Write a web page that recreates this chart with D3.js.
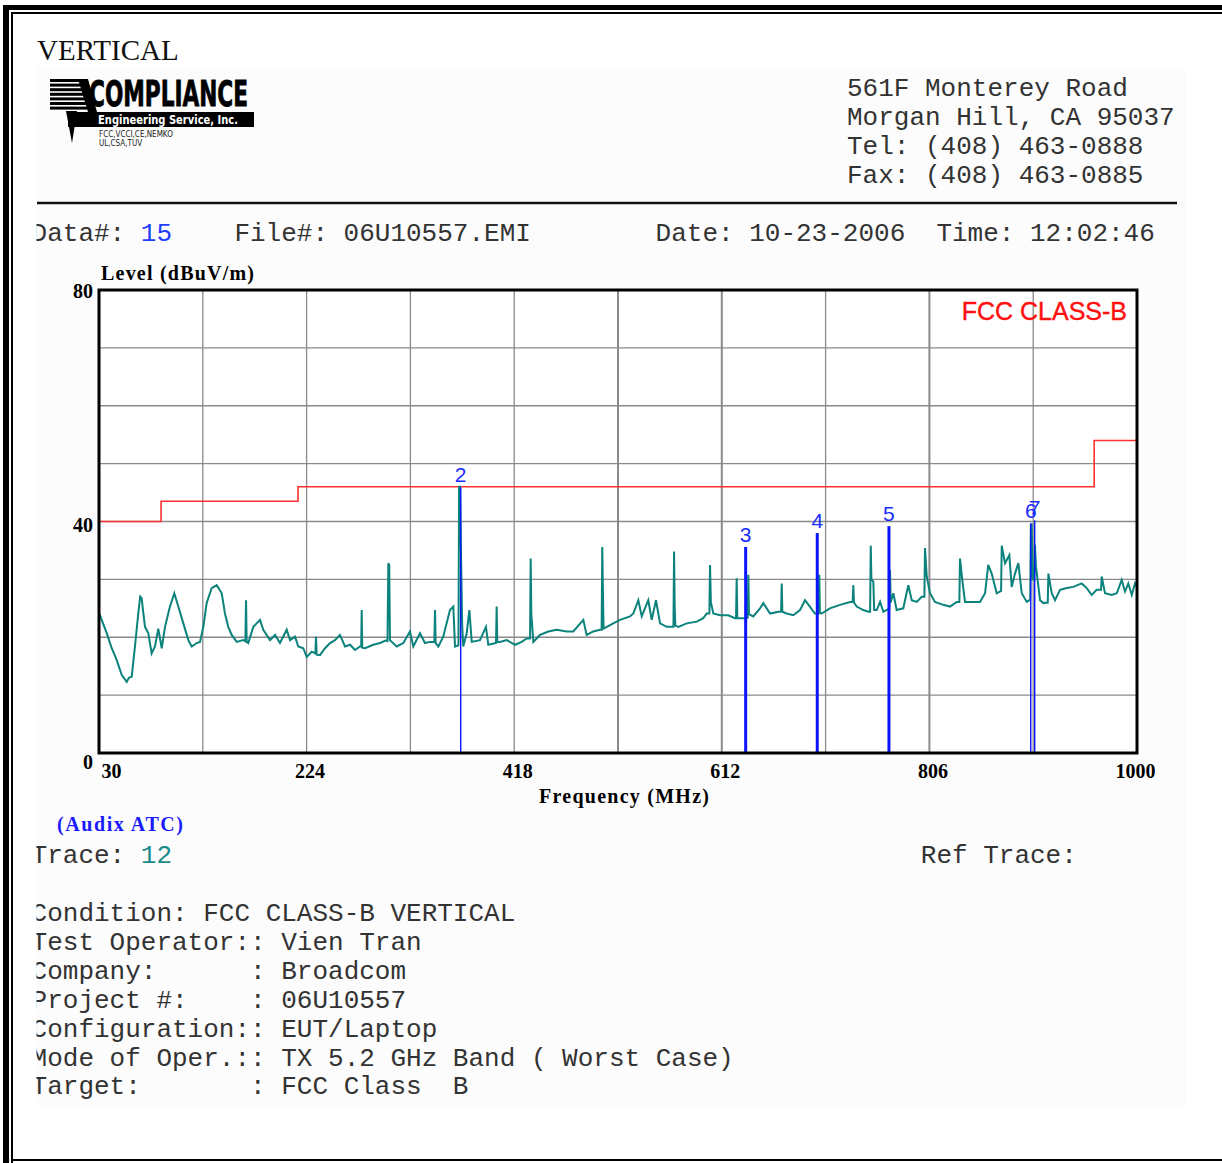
<!DOCTYPE html>
<html>
<head>
<meta charset="utf-8">
<script src="https://cdn.jsdelivr.net/npm/d3@7"></script>
<style>
  html, body { margin: 0; padding: 0; background: #fff; }
  svg { display: block; }
  .mono { font-family: "Liberation Mono", "DejaVu Sans Mono", monospace; font-size: 26px; fill: #333; white-space: pre; }
  .serif { font-family: "Liberation Serif", "Times New Roman", serif; }
</style>
</head>
<body>
<div id="page"></div>
<script>
// ---- chart values ----
const freqTicks = [30, 224, 418, 612, 806, 1000]
const levelTicks = [0, 40, 80]

// FCC class B limit (step line)
const limitMHz = [30, 88, 216, 960, 1000]
const limitDb = [40, 43.5, 46, 54, 54]

// marker lines
const markerNo = ["2", "3", "4", "5", "6", "7"]
const markerMHz = [368.0, 634.3, 701.2, 768.2, 900.7, 904.4]
const markerDb = [45.9, 35.6, 38.0, 39.2, 39.7, 40.2]

// measured trace 12 (MHz, dBuV/m)
const traceData = [
  [30.5, 24.0], [31.9, 23.3], [37.2, 20.7], [41.9, 18.1], [46.5, 16.1], [51.2, 13.5], [55.9, 12.3], [58, 13.0],
  [60.6, 13.2], [63.6, 18.4], [66.7, 24.1], [68.5, 27.0], [69.9, 26.7], [71.2, 24.5], [73.0, 21.8], [76.1, 20.7],
  [79.2, 17.2], [82.3, 18.4], [85.4, 21.5], [88.6, 18.1], [91.7, 21.8], [96.3, 25.3], [100.4, 27.6], [104.1, 25.3],
  [108.8, 22.4], [113.5, 19.5], [116.6, 18.4], [121.3, 19.0], [124.4, 19.2], [127.5, 21.8], [130.6, 25.9],
  [135.3, 28.5], [140.0, 29.0], [144.7, 27.6], [147.7, 24.1], [150.8, 21.8], [154.0, 20.4], [158.7, 19.2],
  [164.8, 19.5], [166.8, 19.3], [167.4, 26.4], [168.0, 19.2], [169.5, 19.0], [174.2, 21.8], [180.5, 23.0],
  [183.5, 21.3], [189.8, 19.5], [194.5, 20.4], [199.1, 19.0], [205.4, 21.3], [208.5, 19.5], [213.2, 20.1],
  [216.2, 18.4], [220.9, 18.1], [224.1, 16.6], [228.8, 17.5], [232.2, 17.2], [232.8, 20.1], [233.4, 17.0],
  [236.5, 16.9], [241.2, 18.1], [245.9, 19.0], [250.5, 19.5], [255.2, 20.4], [259.9, 18.4], [264.6, 18.7],
  [269.2, 17.8], [273.9, 18.4], [275.0, 18.4], [275.5, 24.7], [276.0, 18.2], [278.6, 18.1], [286.3, 18.7],
  [292.6, 19.0], [298.9, 19.5], [299.6, 19.4], [300.4, 32.8], [301.2, 32.5], [301.9, 19.5], [308.2, 18.4],
  [314.4, 19.0], [320.6, 21.0], [323.7, 18.4], [330.0, 20.7], [334.6, 19.0], [339.3, 19.2], [343.4, 19.2],
  [344.0, 24.7], [344.6, 19.0], [347.1, 18.4], [351.7, 20.1], [358.0, 24.7], [361.1, 25.3], [362.7, 18.4],
  [365.9, 18.6], [366.5, 46.0], [367.4, 46.0], [368.4, 33.1], [369.4, 22.0], [370.4, 18.4], [373.6, 20.7],
  [376.1, 24.7], [378.3, 19.2], [386.0, 19.5], [391.6, 21.8], [393.8, 18.7], [401.0, 19.0], [401.6, 25.3],
  [402.2, 19.2], [404.7, 19.2], [411.0, 19.5], [418.8, 18.7], [425.0, 19.2], [429.7, 19.8], [432.8, 19.8],
  [433.4, 33.6], [434.0, 24.0], [435.9, 19.2], [442.1, 20.4], [449.9, 21.0], [457.7, 21.3], [467.1, 21.0],
  [473.2, 21.0], [482.6, 23.0], [485.7, 20.4], [491.9, 21.0], [498.2, 21.3], [499.7, 21.3], [500.3, 35.6],
  [500.9, 28.0], [501.5, 21.5], [504.5, 21.8], [510.6, 22.4], [516.9, 23.0], [526.2, 23.6], [529.3, 24.1],
  [534.0, 26.4], [537.2, 23.6], [543.3, 26.4], [546.5, 23.0], [550.5, 26.4], [554.3, 22.4], [560.5, 21.8],
  [566.8, 21.8], [567.4, 34.8], [568.0, 25.0], [568.6, 22.0], [571.4, 21.8], [579.2, 22.4], [588.6, 22.7],
  [594.7, 23.3], [597.9, 24.1], [600.4, 24.1], [601.0, 32.5], [601.8, 26.0], [604.1, 24.1], [610.3, 23.8],
  [618.1, 23.8], [624.3, 23.3], [625.3, 23.3], [625.9, 30.2], [626.5, 23.3], [629.0, 23.3], [635.3, 23.3],
  [636.2, 23.4], [636.8, 30.8], [637.4, 24.0], [641.4, 23.6], [647.7, 25.0], [650.8, 25.9], [657.1, 24.1],
  [664.8, 24.4], [667.4, 24.4], [668.0, 29.3], [668.6, 24.4], [672.6, 24.1], [678.8, 23.8], [685.1, 24.7],
  [689.8, 26.4], [694.3, 25.3], [699.0, 24.1], [702.5, 24.1], [703.1, 30.8], [703.7, 24.2], [705.3, 24.1],
  [713.0, 25.0], [722.5, 25.6], [731.8, 26.1], [734.3, 26.1], [734.9, 29.0], [735.5, 26.0], [738.1, 25.3],
  [744.2, 24.7], [748.9, 24.4], [750.6, 24.4], [751.2, 35.8], [751.8, 30.0], [753.6, 29.6], [754.4, 24.7],
  [756.8, 24.7], [759.9, 26.1], [763.0, 24.4], [768.6, 25.0], [769.2, 31.6], [769.8, 26.0], [772.3, 27.6],
  [775.4, 24.7], [781.6, 25.0], [786.3, 29.0], [789.5, 26.4], [794.2, 26.1], [798.8, 27.0], [801.3, 27.0],
  [801.9, 35.4], [803.5, 30.5], [806.6, 27.6], [811.2, 26.1], [819.0, 25.6], [825.3, 25.3], [831.5, 26.1],
  [834.0, 26.1], [834.6, 33.6], [837.1, 29.3], [839.3, 26.1], [845.5, 26.1], [853.3, 26.1], [858.0, 27.6],
  [861.0, 32.5], [864.2, 31.0], [868.9, 27.6], [873.0, 28.0], [873.6, 35.8], [876.7, 32.8], [880.7, 34.2],
  [882.9, 28.7], [886.0, 31.0], [889.1, 32.8], [892.3, 27.6], [897.0, 26.1], [900.2, 26.5], [900.8, 39.5],
  [901.6, 39.5], [902.4, 30.0], [904.0, 30.0], [904.6, 36.0], [905.6, 32.2], [909.4, 26.4], [912.5, 25.9],
  [916.6, 26.0], [917.2, 31.0], [920.3, 27.6], [923.4, 26.4], [928.1, 28.2], [934.3, 28.5], [940.5, 28.7],
  [948.3, 29.3], [953.0, 28.5], [957.7, 27.3], [962.3, 28.2], [966.4, 28.2], [967.0, 30.5], [970.1, 27.6],
  [976.4, 27.3], [981.1, 27.6], [985.7, 29.9], [988.8, 27.9], [991.9, 29.3], [995.1, 27.3], [998.2, 29.3],
  [1000, 28.7]
]

// report texts
const addressLines = ["561F Monterey Road", "Morgan Hill, CA 95037", "Tel: (408) 463-0888", "Fax: (408) 463-0885"]
const infoLines = [
  "Condition: FCC CLASS-B VERTICAL",
  "Test Operator:: Vien Tran",
  "Company:      : Broadcom",
  "Project #:    : 06U10557",
  "Configuration:: EUT/Laptop",
  "Mode of Oper.:: TX 5.2 GHz Band ( Worst Case)",
  "Target:       : FCC Class  B"
]

// ---- layout ----
const W = 1222, H = 1163
const plot = { left: 99, right: 1137, top: 290, bottom: 753 }
const charW = 15.6
const textX = 31.6

const svg = d3.select("#page").append("svg")
  .attr("width", W).attr("height", H)
  .attr("viewBox", [0, 0, W, H])

// page frame
svg.append("rect").attr("width", W).attr("height", H).attr("fill", "#fff")
svg.append("rect").attr("x", 36).attr("y", 68).attr("width", 1150).attr("height", 1038).attr("fill", "#fcfcfc")
svg.append("rect").attr("x", 3).attr("y", 5).attr("width", 6).attr("height", H - 5).attr("fill", "#000")
svg.append("rect").attr("x", 3).attr("y", 5).attr("width", W - 3).attr("height", 5).attr("fill", "#000")
svg.append("path")
  .attr("d", `M12,${H} V13 H${W} M12,1160 H${W}`)
  .attr("fill", "none").attr("stroke", "#000").attr("stroke-width", 2)

// clip for the left-cut text
svg.append("clipPath").attr("id", "textClip")
  .append("rect").attr("x", 36.5).attr("y", 0).attr("width", W).attr("height", H)

const textLayer = svg.append("g").attr("clip-path", "url(#textClip)")

svg.append("text").attr("class", "serif")
  .attr("x", 37).attr("y", 59.5)
  .style("font-size", "29px").attr("fill", "#111")
  .text("VERTICAL")

drawLogo(svg.append("g"))

// address block
svg.append("g").selectAll("text")
  .data(addressLines)
  .join("text")
  .attr("class", "mono")
  .attr("x", 847)
  .attr("y", (_d, i) => 96 + i * 29)
  .text(d => d)

svg.append("line")
  .attr("x1", 37).attr("x2", 1177).attr("y1", 203).attr("y2", 203)
  .attr("stroke", "#111").attr("stroke-width", 2.5)

// Data / File / Date / Time row
const headRow = [
  { col: 0, text: "Data#:", color: "#333" },
  { col: 7, text: "15", color: "#1f3dff" },
  { col: 13, text: "File#: 06U10557.EMI", color: "#333" },
  { col: 40, text: "Date: 10-23-2006", color: "#333" },
  { col: 58, text: "Time: 12:02:46", color: "#333" }
]
textLayer.selectAll("text.head")
  .data(headRow)
  .join("text")
  .attr("class", "mono head")
  .attr("x", d => textX + d.col * charW)
  .attr("y", 241)
  .style("fill", d => d.color)
  .text(d => d.text)

// ---- chart ----
const x = d3.scaleLinear().domain([30, 1000]).range([plot.left, plot.right])
const y = d3.scaleLinear().domain([0, 80]).range([plot.bottom, plot.top])

const chart = svg.append("g")

chart.append("rect")
  .attr("x", plot.left).attr("y", plot.top)
  .attr("width", plot.right - plot.left).attr("height", plot.bottom - plot.top)
  .attr("fill", "#fff")

// grid
chart.append("g")
  .selectAll("line")
  .data(d3.range(10, 80, 10))
  .join("line")
  .attr("x1", plot.left).attr("x2", plot.right)
  .attr("y1", d => y(d)).attr("y2", d => y(d))
  .attr("stroke", "#8a8a8a").attr("stroke-width", 1.3)

chart.append("g")
  .selectAll("line")
  .data(d3.range(127, 1000, 97))
  .join("line")
  .attr("x1", d => x(d)).attr("x2", d => x(d))
  .attr("y1", plot.top).attr("y2", plot.bottom)
  .attr("stroke", "#8a8a8a")
  .attr("stroke-width", d => (d === 515 || d === 612 || d === 806) ? 2 : 1.3)

const plotClip = svg.append("clipPath").attr("id", "plotClip")
plotClip.append("rect")
  .attr("x", plot.left).attr("y", plot.top)
  .attr("width", plot.right - plot.left).attr("height", plot.bottom - plot.top)

const inner = chart.append("g").attr("clip-path", "url(#plotClip)")

// limit line
const limitLine = d3.line()
  .x(d => x(d[0]))
  .y(d => y(d[1]))
  .curve(d3.curveStepAfter)

inner.append("path")
  .datum(d3.zip(limitMHz, limitDb))
  .attr("fill", "none")
  .attr("stroke", "#ff3030")
  .attr("stroke-width", 1.6)
  .attr("d", limitLine)

// trace
inner.append("path")
  .datum(traceData)
  .attr("fill", "none")
  .attr("stroke", "#0b827c")
  .attr("stroke-width", 2)
  .attr("stroke-linejoin", "miter")
  .attr("d", d3.line().x(d => x(d[0])).y(d => y(d[1])))

// markers
const thinMarkers = new Set(["2", "6", "7"])
const markers = d3.zip(markerNo, markerMHz, markerDb)

inner.append("g")
  .selectAll("line")
  .data(markers)
  .join("line")
  .attr("x1", d => x(d[1])).attr("x2", d => x(d[1]))
  .attr("y1", y(0)).attr("y2", d => y(d[2]))
  .attr("stroke", "#0a14ff")
  .attr("stroke-width", d => thinMarkers.has(d[0]) ? 1.4 : 3)

chart.append("g")
  .selectAll("text")
  .data(markers)
  .join("text")
  .attr("x", d => x(d[1]))
  .attr("y", d => y(d[2]) - 5)
  .attr("text-anchor", "middle")
  .style("font-family", "Liberation Sans, Arial, sans-serif")
  .style("font-size", "21px")
  .attr("fill", "#1a2cff")
  .text(d => d[0])

inner.append("text")
  .attr("x", 1127).attr("y", 320)
  .attr("text-anchor", "end")
  .style("font-family", "Liberation Sans, Arial, sans-serif")
  .style("font-size", "25px")
  .attr("fill", "#ff1010")
  .attr("stroke", "#ff1010")
  .attr("stroke-width", 0.4)
  .text("FCC CLASS-B")

// frame of the plot
chart.append("rect")
  .attr("x", plot.left).attr("y", plot.top)
  .attr("width", plot.right - plot.left).attr("height", plot.bottom - plot.top)
  .attr("fill", "none").attr("stroke", "#000").attr("stroke-width", 3)

// axes
const xAxis = chart.append("g")
  .attr("transform", `translate(0,${plot.bottom})`)
  .call(d3.axisBottom(x).tickValues(freqTicks).tickFormat(d3.format("d")).tickSize(0).tickPadding(0))
xAxis.select(".domain").remove()
xAxis.selectAll(".tick text")
  .attr("class", "serif")
  .style("font-size", "20px")
  .style("font-weight", "bold")
  .attr("fill", "#000")
  .attr("dy", 0)
  .attr("y", 25)
  .attr("text-anchor", d => d === 30 ? "start" : "middle")
  .attr("dx", d => d === 30 ? 2 : (d === 1000 ? -2 : 3))

const yAxis = chart.append("g")
  .attr("transform", `translate(${plot.left},0)`)
  .call(d3.axisLeft(y).tickValues(levelTicks).tickSize(0).tickPadding(0))
yAxis.select(".domain").remove()
yAxis.selectAll(".tick text")
  .attr("class", "serif")
  .style("font-size", "20px")
  .style("font-weight", "bold")
  .attr("fill", "#000")
  .attr("x", -6)
  .attr("dy", d => d === 0 ? 15 : (d === 40 ? 10 : 7))

chart.append("text").attr("class", "serif")
  .attr("x", 101).attr("y", 280)
  .style("font-size", "20px").style("font-weight", "bold")
  .attr("textLength", 153)
  .text("Level (dBuV/m)")

chart.append("text").attr("class", "serif")
  .attr("x", 624).attr("y", 803)
  .attr("text-anchor", "middle")
  .style("font-size", "20px").style("font-weight", "bold")
  .attr("textLength", 170)
  .text("Frequency (MHz)")

svg.append("text").attr("class", "serif")
  .attr("x", 57).attr("y", 831)
  .style("font-size", "20px").style("font-weight", "bold")
  .attr("textLength", 126)
  .attr("fill", "#1a1aff")
  .text("(Audix ATC)")

// ---- trace / info rows ----
const traceRow = [
  { col: 0, text: "Trace:", color: "#333" },
  { col: 7, text: "12", color: "#1a8a8a" },
  { col: 57, text: "Ref Trace:", color: "#333" }
]
textLayer.selectAll("text.trace")
  .data(traceRow)
  .join("text")
  .attr("class", "mono trace")
  .attr("x", d => textX + d.col * charW)
  .attr("y", 863)
  .style("fill", d => d.color)
  .text(d => d.text)

textLayer.selectAll("text.info")
  .data(infoLines)
  .join("text")
  .attr("class", "mono info")
  .attr("x", textX)
  .attr("y", (_d, i) => 921 + i * 28.9)
  .text(d => d)

function drawLogo(g) {
  // striped "A"
  g.selectAll("rect.stripe")
    .data(d3.range(7))
    .join("rect")
    .attr("class", "stripe")
    .attr("x", 50)
    .attr("y", i => 79 + i * 4.6)
    .attr("width", i => 30 + i * 1.6)
    .attr("height", 3)
    .attr("fill", "#000")

  g.append("path")
    .attr("d", "M78,79 L88,79 L97,112 L88,112 Z")
    .attr("fill", "#000")

  g.append("path")
    .attr("d", "M66,111 L72,143 L77,111 Z")
    .attr("fill", "#000")

  g.append("text")
    .attr("x", 89).attr("y", 106)
    .attr("textLength", 159)
    .attr("lengthAdjust", "spacingAndGlyphs")
    .style("font-family", "Liberation Sans Narrow, DejaVu Sans Condensed, sans-serif")
    .style("font-size", "35px")
    .style("font-weight", "bold")
    .attr("fill", "#000")
    .attr("stroke", "#000")
    .attr("stroke-width", 0.8)
    .text("COMPLIANCE")

  g.append("rect")
    .attr("x", 68).attr("y", 112).attr("width", 186).attr("height", 15)
    .attr("fill", "#000")

  g.append("text")
    .attr("x", 98).attr("y", 124)
    .attr("textLength", 140)
    .attr("lengthAdjust", "spacingAndGlyphs")
    .style("font-family", "DejaVu Sans Condensed, sans-serif")
    .style("font-size", "11.5px")
    .style("font-weight", "bold")
    .attr("fill", "#fff")
    .text("Engineering Service, Inc.")

  g.append("text")
    .attr("x", 99).attr("y", 137)
    .style("font-family", "DejaVu Sans Condensed, sans-serif")
    .style("font-size", "8px")
    .attr("fill", "#222")
    .text("FCC,VCCI,CE,NEMKO")

  g.append("text")
    .attr("x", 99).attr("y", 146)
    .style("font-family", "DejaVu Sans Condensed, sans-serif")
    .style("font-size", "8px")
    .attr("fill", "#222")
    .text("UL,CSA,TUV")
}
</script>
</body>
</html>
